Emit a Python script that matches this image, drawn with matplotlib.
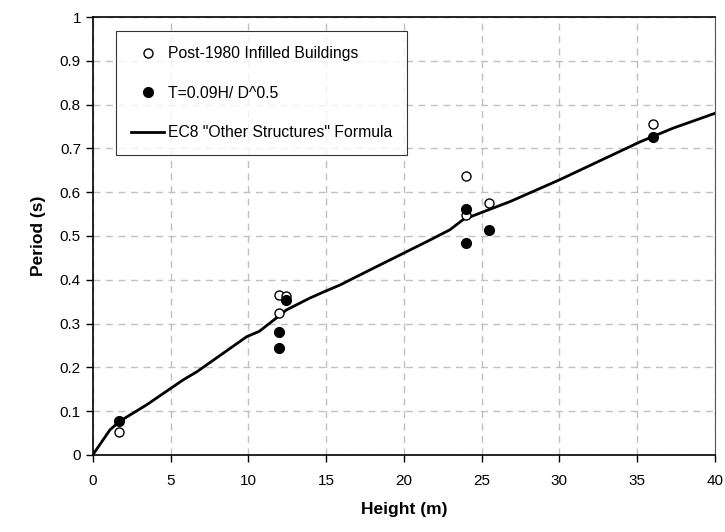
import matplotlib
matplotlib.use("Agg")
import matplotlib.pyplot as plt

plt.rcParams['font.family'] = ['Liberation Sans', 'DejaVu Sans']

# Post-1980 infilled buildings (open circles)
obs_h = [1.7, 12.0, 12.0, 12.4, 24.0, 24.0, 25.5, 36.0]
obs_t = [0.053, 0.365, 0.323, 0.362, 0.638, 0.548, 0.576, 0.755]

# T = 0.09H / D^0.5 (filled circles)
est_h = [1.7, 12.0, 12.0, 12.4, 24.0, 24.0, 25.5, 36.0]
est_t = [0.078, 0.280, 0.243, 0.354, 0.561, 0.483, 0.514, 0.727]

# EC8 "Other Structures" formula (line)
ec8_h = [0.0, 1.1, 1.7, 3.45, 5.8, 6.7, 9.9, 10.7, 12.0, 12.45, 13.95, 14.9,
         15.9, 17.8, 19.95, 21.7, 22.96, 23.8, 25.1, 26.8, 30.0, 35.2, 37.3,
         40.0]
ec8_t = [0.0, 0.057, 0.076, 0.114, 0.171, 0.190, 0.270, 0.282, 0.318, 0.331,
         0.358, 0.373, 0.388, 0.422, 0.460, 0.491, 0.514, 0.537, 0.555, 0.578,
         0.628, 0.715, 0.746, 0.780]

fig = plt.figure(figsize=(7.25, 5.32), dpi=100)
ax = fig.add_axes([0.128, 0.145, 0.858, 0.823])

ax.plot(obs_h, obs_t, 'o', mfc='white', mec='black', mew=1.0, ms=6.5,
        ls='none', label='Post-1980 Infilled Buildings', zorder=3)
ax.plot(est_h, est_t, 'o', mfc='black', mec='black', ms=7,
        ls='none', label='T=0.09H/ D^0.5', zorder=4)
ax.plot(ec8_h, ec8_t, '-', color='black', lw=2,
        label='EC8 "Other Structures" Formula', zorder=2)

ax.set_xlim(0, 40)
ax.set_ylim(0, 1)
ax.set_xticks(range(0, 41, 5))
ax.set_yticks([i / 10 for i in range(11)])
ax.set_yticklabels(['0', '0.1', '0.2', '0.3', '0.4', '0.5', '0.6', '0.7',
                    '0.8', '0.9', '1'])
ax.grid(True, ls=(0, (5, 4)), color='#c0c0c0', lw=1)
ax.set_axisbelow(True)
ax.tick_params(direction='out', length=5, labelsize=11, width=1)
ax.tick_params(axis='x', pad=9)

for s in ['left', 'bottom', 'top']:
    ax.spines[s].set_linewidth(1.2)
    ax.spines[s].set_color('black')
ax.spines['right'].set_color('#555555')

ax.set_xlabel('Height (m)', fontsize=12.5, fontweight='bold', labelpad=10)
ax.set_ylabel('Period (s)', fontsize=12.5, fontweight='bold', labelpad=10)

leg = ax.legend(loc='upper left', bbox_to_anchor=(0.038, 0.967),
                fontsize=11.3, frameon=True, fancybox=False,
                labelspacing=1.55, handlelength=2.1, handletextpad=0.25,
                borderpad=0.95, borderaxespad=0)
leg.get_frame().set_edgecolor('black')
leg.get_frame().set_linewidth(0.8)

fig.savefig('out.png', dpi=100)
